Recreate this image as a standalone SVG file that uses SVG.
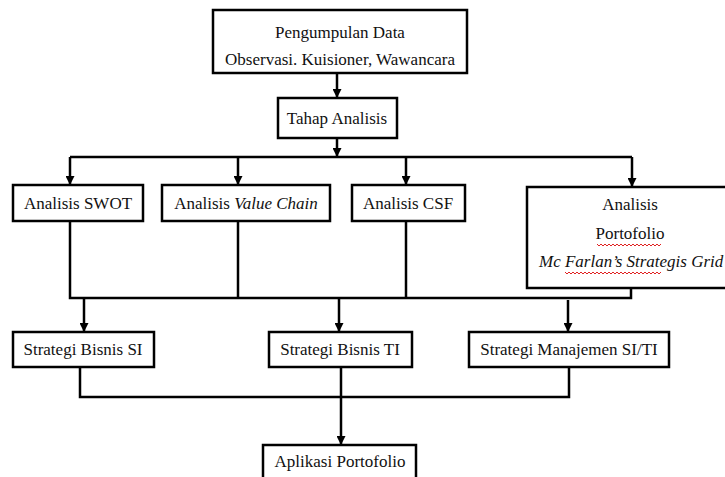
<svg xmlns="http://www.w3.org/2000/svg" width="725" height="477" viewBox="0 0 725 477">
<defs>
<style>
.box{fill:#fff;stroke:#000;stroke-width:2.5}
.t{font-size:17px;fill:#111;text-anchor:middle}
.i{font-style:italic}
.c{fill:none;stroke:#000;stroke-width:2.5}
.a{marker-end:url(#ah)}
.sq{fill:none;stroke:#e02020;stroke-width:1}
</style>
<marker id="ah" markerUnits="userSpaceOnUse" markerWidth="9" markerHeight="9" refX="9" refY="4.5" orient="auto">
<path d="M0,0 L9,4.5 L0,9 z" fill="#000"/>
</marker>
</defs>
<rect width="725" height="477" fill="#fff"/>
<g id="connectors">
<path class="c a" d="M337,73 V98"/>
<path class="c a" d="M337,138 V157"/>
<path class="c" d="M70,157 H632"/>
<path class="c a" d="M70,157 V185"/>
<path class="c a" d="M238,157 V185"/>
<path class="c a" d="M406,157 V185"/>
<path class="c a" d="M632,157 V187"/>
<path class="c" d="M70,221 V298 H631 V288"/>
<path class="c" d="M238,221 V298"/>
<path class="c" d="M406,221 V298"/>
<path class="c a" d="M84,298 V332"/>
<path class="c a" d="M339,298 V332"/>
<path class="c a" d="M568,300 V332"/>
<path class="c" d="M80,367 V397 H569 V367"/>
<path class="c a" d="M341,367 V445"/>
</g>
<g id="pengumpulan">
<rect class="box" x="213" y="10" width="254" height="63"/>
<text class="t" font-family="Liberation Serif" x="340" y="38">Pengumpulan Data</text>
<text class="t" font-family="Liberation Serif" x="340" y="65">Observasi. Kuisioner, Wawancara</text>
</g>
<g id="tahap">
<rect class="box" x="278" y="98" width="119" height="40"/>
<text class="t" font-family="Liberation Serif" x="337" y="124">Tahap Analisis</text>
</g>
<g id="swot">
<rect class="box" x="13" y="185" width="130" height="36"/>
<text class="t" font-family="Liberation Serif" x="78" y="209">Analisis SWOT</text>
</g>
<g id="valuechain">
<rect class="box" x="162" y="185" width="168" height="36"/>
<text class="t" font-family="Liberation Serif" x="246" y="209">Analisis <tspan class="i">Value Chain</tspan></text>
</g>
<g id="csf">
<rect class="box" x="352" y="185" width="113" height="36"/>
<text class="t" font-family="Liberation Serif" x="408" y="209">Analisis CSF</text>
</g>
<g id="portofolio">
<rect class="box" x="527" y="187" width="200" height="101"/>
<text class="t" font-family="Liberation Serif" x="630" y="210">Analisis</text>
<text class="t" font-family="Liberation Serif" x="630" y="239">Portofolio</text>
<path class="sq" d="M597,244 l2,2 l2,-2 l2,2 l2,-2 l2,2 l2,-2 l2,2 l2,-2 l2,2 l2,-2 l2,2 l2,-2 l2,2 l2,-2 l2,2 l2,-2 l2,2 l2,-2 l2,2 l2,-2 l2,2 l2,-2 l2,2 l2,-2 l2,2 l2,-2 l2,2 l2,-2 l2,2 l2,-2 l2,2 l2,-2"/>
<text class="t i" font-family="Liberation Serif" x="539" y="267" style="text-anchor:start">Mc Farlan’s Strategis Grid</text>
<path class="sq" d="M565,272 l2,2 l2,-2 l2,2 l2,-2 l2,2 l2,-2 l2,2 l2,-2 l2,2 l2,-2 l2,2 l2,-2 l2,2 l2,-2 l2,2 l2,-2 l2,2 l2,-2 l2,2 l2,-2 l2,2 l2,-2 l2,2 l2,-2 l2,2 l2,-2 l2,2 l2,-2 l2,2 l2,-2 l2,2 l2,-2 l2,2 l2,-2 l2,2 l2,-2 l2,2 l2,-2 l2,2 l2,-2 l2,2 l2,-2 l2,2 l2,-2 l2,2 l2,-2 l2,2 l2,-2"/>
</g>
<g id="bisnis-si">
<rect class="box" x="13" y="332" width="141" height="35"/>
<text class="t" font-family="Liberation Serif" x="83" y="355">Strategi Bisnis SI</text>
</g>
<g id="bisnis-ti">
<rect class="box" x="269" y="332" width="143" height="35"/>
<text class="t" font-family="Liberation Serif" x="340" y="355">Strategi Bisnis TI</text>
</g>
<g id="manajemen">
<rect class="box" x="469" y="332" width="200" height="35"/>
<text class="t" font-family="Liberation Serif" x="569" y="355">Strategi Manajemen SI/TI</text>
</g>
<g id="aplikasi">
<rect class="box" x="263" y="445" width="153" height="40"/>
<text class="t" font-family="Liberation Serif" x="340" y="467">Aplikasi Portofolio</text>
</g>
</svg>
